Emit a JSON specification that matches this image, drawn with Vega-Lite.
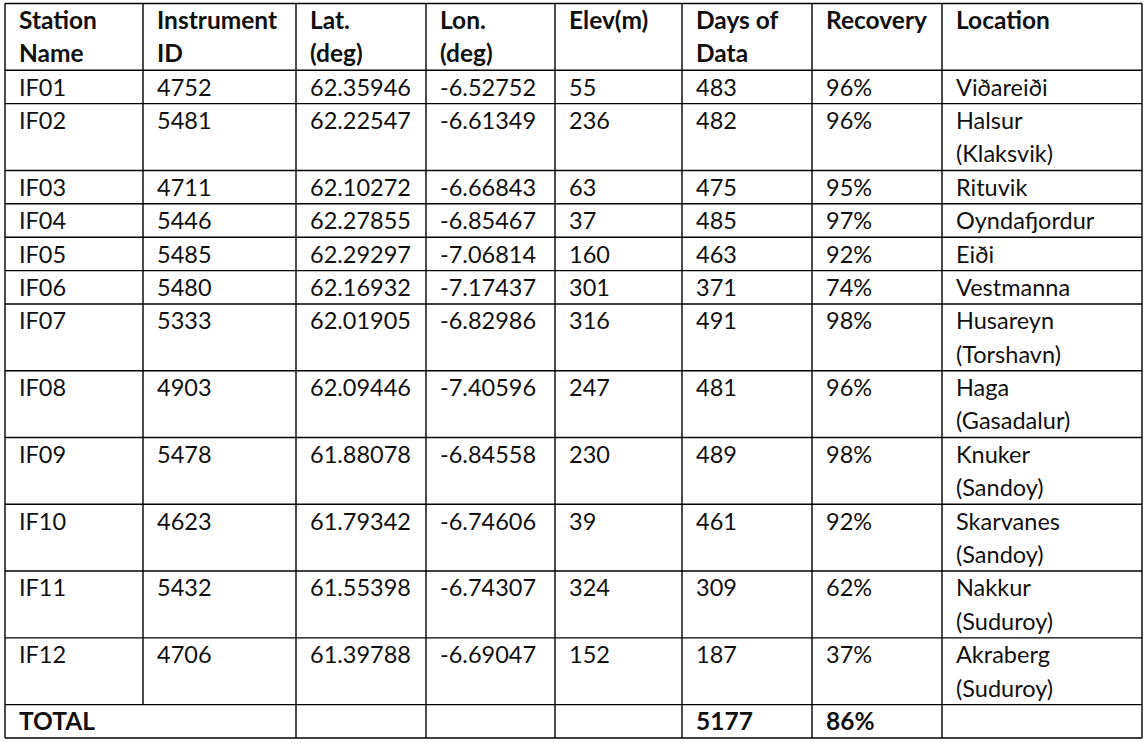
{
  "$schema": "https://vega.github.io/schema/vega-lite/v6.json",
  "width": 1147,
  "height": 742,
  "padding": 0,
  "autosize": {"type": "none"},
  "background": "white",
  "config": {"view": {"stroke": null}},
  "datasets": {
    "cells": [
      {"col": 0, "line": 0, "text": "Station", "w": "bold"},
      {"col": 0, "line": 1, "text": "Name", "w": "bold"},
      {"col": 1, "line": 0, "text": "Instrument", "w": "bold"},
      {"col": 1, "line": 1, "text": "ID", "w": "bold"},
      {"col": 2, "line": 0, "text": "Lat.", "w": "bold"},
      {"col": 2, "line": 1, "text": "(deg)", "w": "bold"},
      {"col": 3, "line": 0, "text": "Lon.", "w": "bold"},
      {"col": 3, "line": 1, "text": "(deg)", "w": "bold"},
      {"col": 4, "line": 0, "text": "Elev(m)", "w": "bold"},
      {"col": 5, "line": 0, "text": "Days of", "w": "bold"},
      {"col": 5, "line": 1, "text": "Data", "w": "bold"},
      {"col": 6, "line": 0, "text": "Recovery", "w": "bold"},
      {"col": 7, "line": 0, "text": "Location", "w": "bold"},

      {"col": 0, "line": 2, "text": "IF01", "w": "normal"},
      {"col": 1, "line": 2, "text": "4752", "w": "normal"},
      {"col": 2, "line": 2, "text": "62.35946", "w": "normal"},
      {"col": 3, "line": 2, "text": "-6.52752", "w": "normal"},
      {"col": 4, "line": 2, "text": "55", "w": "normal"},
      {"col": 5, "line": 2, "text": "483", "w": "normal"},
      {"col": 6, "line": 2, "text": "96%", "w": "normal"},
      {"col": 7, "line": 2, "text": "Viðareiði", "w": "normal"},

      {"col": 0, "line": 3, "text": "IF02", "w": "normal"},
      {"col": 1, "line": 3, "text": "5481", "w": "normal"},
      {"col": 2, "line": 3, "text": "62.22547", "w": "normal"},
      {"col": 3, "line": 3, "text": "-6.61349", "w": "normal"},
      {"col": 4, "line": 3, "text": "236", "w": "normal"},
      {"col": 5, "line": 3, "text": "482", "w": "normal"},
      {"col": 6, "line": 3, "text": "96%", "w": "normal"},
      {"col": 7, "line": 3, "text": "Halsur", "w": "normal"},
      {"col": 7, "line": 4, "text": "(Klaksvik)", "w": "normal"},

      {"col": 0, "line": 5, "text": "IF03", "w": "normal"},
      {"col": 1, "line": 5, "text": "4711", "w": "normal"},
      {"col": 2, "line": 5, "text": "62.10272", "w": "normal"},
      {"col": 3, "line": 5, "text": "-6.66843", "w": "normal"},
      {"col": 4, "line": 5, "text": "63", "w": "normal"},
      {"col": 5, "line": 5, "text": "475", "w": "normal"},
      {"col": 6, "line": 5, "text": "95%", "w": "normal"},
      {"col": 7, "line": 5, "text": "Rituvik", "w": "normal"},

      {"col": 0, "line": 6, "text": "IF04", "w": "normal"},
      {"col": 1, "line": 6, "text": "5446", "w": "normal"},
      {"col": 2, "line": 6, "text": "62.27855", "w": "normal"},
      {"col": 3, "line": 6, "text": "-6.85467", "w": "normal"},
      {"col": 4, "line": 6, "text": "37", "w": "normal"},
      {"col": 5, "line": 6, "text": "485", "w": "normal"},
      {"col": 6, "line": 6, "text": "97%", "w": "normal"},
      {"col": 7, "line": 6, "text": "Oyndafjordur", "w": "normal"},

      {"col": 0, "line": 7, "text": "IF05", "w": "normal"},
      {"col": 1, "line": 7, "text": "5485", "w": "normal"},
      {"col": 2, "line": 7, "text": "62.29297", "w": "normal"},
      {"col": 3, "line": 7, "text": "-7.06814", "w": "normal"},
      {"col": 4, "line": 7, "text": "160", "w": "normal"},
      {"col": 5, "line": 7, "text": "463", "w": "normal"},
      {"col": 6, "line": 7, "text": "92%", "w": "normal"},
      {"col": 7, "line": 7, "text": "Eiði", "w": "normal"},

      {"col": 0, "line": 8, "text": "IF06", "w": "normal"},
      {"col": 1, "line": 8, "text": "5480", "w": "normal"},
      {"col": 2, "line": 8, "text": "62.16932", "w": "normal"},
      {"col": 3, "line": 8, "text": "-7.17437", "w": "normal"},
      {"col": 4, "line": 8, "text": "301", "w": "normal"},
      {"col": 5, "line": 8, "text": "371", "w": "normal"},
      {"col": 6, "line": 8, "text": "74%", "w": "normal"},
      {"col": 7, "line": 8, "text": "Vestmanna", "w": "normal"},

      {"col": 0, "line": 9, "text": "IF07", "w": "normal"},
      {"col": 1, "line": 9, "text": "5333", "w": "normal"},
      {"col": 2, "line": 9, "text": "62.01905", "w": "normal"},
      {"col": 3, "line": 9, "text": "-6.82986", "w": "normal"},
      {"col": 4, "line": 9, "text": "316", "w": "normal"},
      {"col": 5, "line": 9, "text": "491", "w": "normal"},
      {"col": 6, "line": 9, "text": "98%", "w": "normal"},
      {"col": 7, "line": 9, "text": "Husareyn", "w": "normal"},
      {"col": 7, "line": 10, "text": "(Torshavn)", "w": "normal"},

      {"col": 0, "line": 11, "text": "IF08", "w": "normal"},
      {"col": 1, "line": 11, "text": "4903", "w": "normal"},
      {"col": 2, "line": 11, "text": "62.09446", "w": "normal"},
      {"col": 3, "line": 11, "text": "-7.40596", "w": "normal"},
      {"col": 4, "line": 11, "text": "247", "w": "normal"},
      {"col": 5, "line": 11, "text": "481", "w": "normal"},
      {"col": 6, "line": 11, "text": "96%", "w": "normal"},
      {"col": 7, "line": 11, "text": "Haga", "w": "normal"},
      {"col": 7, "line": 12, "text": "(Gasadalur)", "w": "normal"},

      {"col": 0, "line": 13, "text": "IF09", "w": "normal"},
      {"col": 1, "line": 13, "text": "5478", "w": "normal"},
      {"col": 2, "line": 13, "text": "61.88078", "w": "normal"},
      {"col": 3, "line": 13, "text": "-6.84558", "w": "normal"},
      {"col": 4, "line": 13, "text": "230", "w": "normal"},
      {"col": 5, "line": 13, "text": "489", "w": "normal"},
      {"col": 6, "line": 13, "text": "98%", "w": "normal"},
      {"col": 7, "line": 13, "text": "Knuker", "w": "normal"},
      {"col": 7, "line": 14, "text": "(Sandoy)", "w": "normal"},

      {"col": 0, "line": 15, "text": "IF10", "w": "normal"},
      {"col": 1, "line": 15, "text": "4623", "w": "normal"},
      {"col": 2, "line": 15, "text": "61.79342", "w": "normal"},
      {"col": 3, "line": 15, "text": "-6.74606", "w": "normal"},
      {"col": 4, "line": 15, "text": "39", "w": "normal"},
      {"col": 5, "line": 15, "text": "461", "w": "normal"},
      {"col": 6, "line": 15, "text": "92%", "w": "normal"},
      {"col": 7, "line": 15, "text": "Skarvanes", "w": "normal"},
      {"col": 7, "line": 16, "text": "(Sandoy)", "w": "normal"},

      {"col": 0, "line": 17, "text": "IF11", "w": "normal"},
      {"col": 1, "line": 17, "text": "5432", "w": "normal"},
      {"col": 2, "line": 17, "text": "61.55398", "w": "normal"},
      {"col": 3, "line": 17, "text": "-6.74307", "w": "normal"},
      {"col": 4, "line": 17, "text": "324", "w": "normal"},
      {"col": 5, "line": 17, "text": "309", "w": "normal"},
      {"col": 6, "line": 17, "text": "62%", "w": "normal"},
      {"col": 7, "line": 17, "text": "Nakkur", "w": "normal"},
      {"col": 7, "line": 18, "text": "(Suduroy)", "w": "normal"},

      {"col": 0, "line": 19, "text": "IF12", "w": "normal"},
      {"col": 1, "line": 19, "text": "4706", "w": "normal"},
      {"col": 2, "line": 19, "text": "61.39788", "w": "normal"},
      {"col": 3, "line": 19, "text": "-6.69047", "w": "normal"},
      {"col": 4, "line": 19, "text": "152", "w": "normal"},
      {"col": 5, "line": 19, "text": "187", "w": "normal"},
      {"col": 6, "line": 19, "text": "37%", "w": "normal"},
      {"col": 7, "line": 19, "text": "Akraberg", "w": "normal"},
      {"col": 7, "line": 20, "text": "(Suduroy)", "w": "normal"},

      {"col": 0, "line": 21, "text": "TOTAL", "w": "bold"},
      {"col": 5, "line": 21, "text": "5177", "w": "bold"},
      {"col": 6, "line": 21, "text": "86%", "w": "bold"}
    ],
    "grid": [
      {"c1": 0, "c2": 8, "l1": 0, "l2": 0},
      {"c1": 0, "c2": 8, "l1": 2, "l2": 2},
      {"c1": 0, "c2": 8, "l1": 3, "l2": 3},
      {"c1": 0, "c2": 8, "l1": 5, "l2": 5},
      {"c1": 0, "c2": 8, "l1": 6, "l2": 6},
      {"c1": 0, "c2": 8, "l1": 7, "l2": 7},
      {"c1": 0, "c2": 8, "l1": 8, "l2": 8},
      {"c1": 0, "c2": 8, "l1": 9, "l2": 9},
      {"c1": 0, "c2": 8, "l1": 11, "l2": 11},
      {"c1": 0, "c2": 8, "l1": 13, "l2": 13},
      {"c1": 0, "c2": 8, "l1": 15, "l2": 15},
      {"c1": 0, "c2": 8, "l1": 17, "l2": 17},
      {"c1": 0, "c2": 8, "l1": 19, "l2": 19},
      {"c1": 0, "c2": 8, "l1": 21, "l2": 21},
      {"c1": 0, "c2": 8, "l1": 22, "l2": 22},
      {"c1": 0, "c2": 0, "l1": 0, "l2": 22},
      {"c1": 1, "c2": 1, "l1": 0, "l2": 21},
      {"c1": 2, "c2": 2, "l1": 0, "l2": 22},
      {"c1": 3, "c2": 3, "l1": 0, "l2": 22},
      {"c1": 4, "c2": 4, "l1": 0, "l2": 22},
      {"c1": 5, "c2": 5, "l1": 0, "l2": 22},
      {"c1": 6, "c2": 6, "l1": 0, "l2": 22},
      {"c1": 7, "c2": 7, "l1": 0, "l2": 22},
      {"c1": 8, "c2": 8, "l1": 0, "l2": 22}
    ]
  },
  "layer": [
    {
      "data": {"name": "grid"},
      "mark": {"type": "rule", "color": "#000000", "strokeWidth": 1.4},
      "encoding": {
        "x": {"field": "c1", "type": "quantitative", "scale": {"domain": [0, 1, 2, 3, 4, 5, 6, 7, 8], "range": [5, 143, 296, 426, 555, 682, 812, 942, 1142]}, "axis": null},
        "x2": {"field": "c2"},
        "y": {"field": "l1", "type": "quantitative", "scale": {"domain": [0, 22], "range": [3.5, 738]}, "axis": null},
        "y2": {"field": "l2"}
      }
    },
    {
      "data": {"name": "cells"},
      "transform": [{"filter": "datum.w === 'normal'"}],
      "mark": {"type": "text", "align": "left", "baseline": "alphabetic", "dx": 14, "dy": 25.3, "font": "Lato", "fontSize": 23.5, "fontWeight": "normal", "color": "#111111"},
      "encoding": {
        "x": {"field": "col", "type": "quantitative"},
        "y": {"field": "line", "type": "quantitative"},
        "text": {"field": "text"}
      }
    },
    {
      "data": {"name": "cells"},
      "transform": [{"filter": "datum.w === 'bold'"}],
      "mark": {"type": "text", "align": "left", "baseline": "alphabetic", "dx": 14, "dy": 25.3, "font": "Lato", "fontSize": 24.5, "fontWeight": "bold", "color": "#111111"},
      "encoding": {
        "x": {"field": "col", "type": "quantitative"},
        "y": {"field": "line", "type": "quantitative"},
        "text": {"field": "text"}
      }
    }
  ]
}
